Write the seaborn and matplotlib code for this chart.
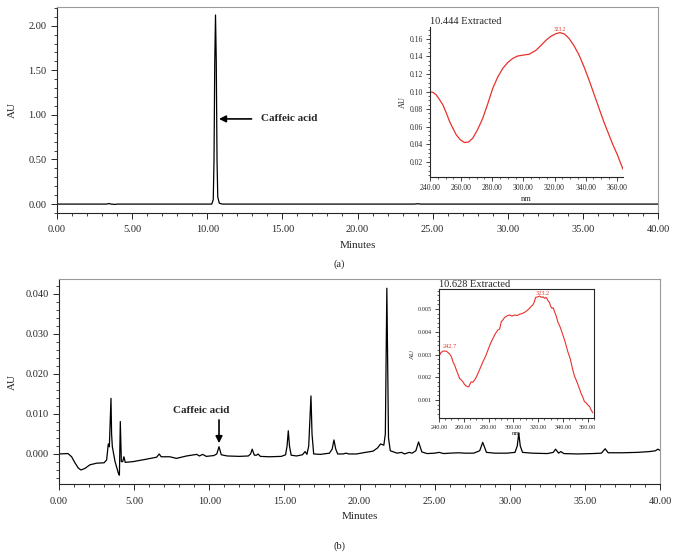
import numpy as np
import pandas as pd
import matplotlib
matplotlib.use("Agg")
import matplotlib.pyplot as plt
from matplotlib.ticker import MultipleLocator, FormatStrFormatter
import seaborn as sns

# ---------------- data ----------------
# (a) standard chromatogram
std_time = [0.0, 3.3, 3.45, 3.6, 3.9, 4.0, 4.1, 10.0, 10.3, 10.4, 10.45, 10.5, 10.55,
            10.6, 10.65, 10.7, 10.8, 11.0, 23.8, 24.0, 24.2, 40.0]
std_au = [0.0, 0.0, 0.006, 0.0, -0.004, 0.0, 0.0, 0.0, 0.0, 0.05, 0.5, 1.6, 2.12,
          1.6, 0.5, 0.08, 0.01, 0.0, 0.0, 0.004, 0.0, 0.0]

# (a) inset UV spectrum
std_nm = [240, 242, 244, 246, 248.3, 250.5, 252.6, 254.8, 256.9, 259.5, 262.2, 264.8,
          267.5, 270.7, 273.9, 277.1, 280.3, 283.5, 286.7, 289.9, 293.1, 296.3,
          299.6, 303.8, 308.1, 311.3, 314.5, 317.7, 320.9, 323.5, 326.5, 329.4,
          332.6, 335.8, 339.0, 342.2, 345.4, 348.6, 351.8, 355.0, 357.7, 360.4,
          362.2, 364.0]
std_spec = [0.0998, 0.0990, 0.0962, 0.0912, 0.0847, 0.0755, 0.0658, 0.0578, 0.0506,
            0.0450, 0.0419, 0.0425, 0.0469, 0.0570, 0.0696, 0.0860, 0.1036, 0.1165,
            0.1263, 0.1330, 0.1377, 0.1405, 0.1415, 0.1426, 0.1471, 0.1525, 0.1585,
            0.1630, 0.1660, 0.1672, 0.1655, 0.1604, 0.1520, 0.1415, 0.1280, 0.1131,
            0.0970, 0.0809, 0.0650, 0.0506, 0.0385, 0.0279, 0.0195, 0.0115]

# (b) sample chromatogram
smp_time = [0.0, 0.6, 0.84, 1.06, 1.28, 1.46, 1.73, 2.06, 2.51, 3.0, 3.17, 3.28, 3.35,
            3.46, 3.5, 3.55, 3.73, 3.95, 4.02, 4.08, 4.15, 4.24, 4.32, 4.41, 4.94,
            5.82, 6.5, 6.67, 6.8, 7.38, 7.82, 8.49, 9.16, 9.35, 9.56, 9.8, 10.3,
            10.5, 10.65, 10.8, 11.2, 12.0, 12.6, 12.75, 12.86, 13.0, 13.15, 13.25,
            13.4, 14.0, 14.8, 15.08, 15.18, 15.26, 15.34, 15.45, 15.8, 16.2, 16.38,
            16.5, 16.62, 16.7, 16.77, 16.84, 16.95, 17.4, 18.0, 18.18, 18.3, 18.42,
            18.55, 18.9, 19.1, 19.3, 19.8, 20.4, 20.9, 21.2, 21.4, 21.62, 21.72,
            21.76, 21.82, 21.88, 21.93, 22.05, 22.5, 22.8, 23.0, 23.3, 23.5, 23.75,
            23.93, 24.15, 24.5, 25.0, 25.3, 25.6, 26.0, 26.6, 27.0, 27.6, 28.0, 28.2,
            28.45, 29.0, 29.8, 30.35, 30.5, 30.6, 30.7, 30.85, 31.5, 32.5, 32.9,
            33.05, 33.25, 33.4, 33.6, 34.5, 35.5, 36.1, 36.35, 36.55, 37.5, 38.5,
            39.3, 39.7, 39.85, 40.0]
smp_au = [0.0, 0.0001, -0.0007, -0.0022, -0.0035, -0.0040, -0.0036, -0.0027, -0.0023,
          -0.0022, -0.0015, 0.0025, 0.0018, 0.0139, 0.005, 0.0018, -0.0019, -0.0048,
          -0.0053, 0.0081, -0.0019, -0.0019, -0.0007, -0.0021, -0.0019, -0.0013,
          -0.0008, 0.0, -0.0007, -0.0007, -0.0011, -0.0005, -0.0001, -0.0005,
          -0.0001, -0.0006, -0.0004, 0.0, 0.0018, -0.0002, -0.0005, -0.0006, -0.0005,
          0.0, 0.0012, -0.0003, -0.0003, 0.0, -0.0006, -0.0007, -0.0006, -0.0002,
          0.002, 0.0058, 0.002, -0.0003, -0.0005, -0.0002, 0.0006, -0.0001, 0.002,
          0.009, 0.0145, 0.005, 0.0, -0.0001, 0.0002, 0.0012, 0.0035, 0.0012, 0.0,
          0.0, 0.0002, 0.0, 0.0, 0.0004, 0.0007, 0.0015, 0.0025, 0.0022, 0.005, 0.02,
          0.0414, 0.02, 0.004, 0.0008, 0.0002, 0.0004, 0.0, 0.0004, 0.0002, 0.0008,
          0.003, 0.0005, 0.0001, 0.0002, 0.0004, 0.0001, 0.0002, 0.0003, 0.0002,
          0.0002, 0.0008, 0.0029, 0.0004, 0.0002, 0.0002, 0.0004, 0.002, 0.0052,
          0.002, 0.0004, 0.0002, 0.0001, 0.0004, 0.0012, 0.0002, 0.0006, 0.0001, 0.0,
          0.0001, 0.0002, 0.0013, 0.0003, 0.0003, 0.0004, 0.0006, 0.0008, 0.0012,
          0.0009]

# (b) inset UV spectrum (noisy trace)
smp_nm = [240, 241.5, 243.2, 245.9, 248.6, 250, 251.3, 252.7, 254, 255.3, 256.6, 258,
          259.3, 260.6, 262, 263.1, 264.2, 265.1, 266, 267.3, 268.7, 270, 271.4,
          273.4, 275.4, 277.4, 279.5, 281.5, 283.5, 285.5, 287.5, 288.9, 290.2,
          291.5, 292.9, 294.9, 296.9, 298.9, 300.9, 303, 305, 307, 309, 311, 313,
          314.4, 315.7, 316.8, 317.9, 319.5, 321.1, 322.5, 323.8, 325.1, 326.5,
          327.8, 329.1, 330.2, 331.3, 332.2, 333.2, 334.5, 335.8, 337.9, 339.9,
          341.9, 343.9, 345.9, 347.9, 349.3, 350.6, 352.6, 354.6, 356, 357.3, 358.7,
          360, 361.4, 362.7, 364]
smp_spec = [0.00293, 0.00308, 0.00315, 0.00315, 0.00302, 0.00290, 0.00268, 0.00252,
            0.00232, 0.00214, 0.00195, 0.00188, 0.0018, 0.00168, 0.00162, 0.00158,
            0.00159, 0.00172, 0.0018, 0.00178, 0.00188, 0.00200, 0.00217, 0.00242,
            0.00268, 0.00290, 0.0032, 0.00348, 0.00371, 0.00392, 0.00408, 0.00412,
            0.00444, 0.00452, 0.00463, 0.00470, 0.00474, 0.00469, 0.00474, 0.00471,
            0.00477, 0.00480, 0.00485, 0.00493, 0.00503, 0.00512, 0.00518, 0.00530,
            0.00551, 0.00553, 0.00557, 0.00551, 0.00554, 0.00547, 0.00551, 0.00538,
            0.00528, 0.00510, 0.00503, 0.00505, 0.00488, 0.00470, 0.00444, 0.00418,
            0.00386, 0.00352, 0.00312, 0.00280, 0.00232, 0.00205, 0.00188, 0.00160,
            0.00129, 0.00112, 0.00093, 0.00088, 0.00078, 0.00072, 0.00056, 0.00044]

# ---------------- style ----------------
sns.set_style("ticks")
plt.rcParams["font.family"] = ["Liberation Serif", "DejaVu Serif"]
plt.rcParams["axes.linewidth"] = 0.8

RED = "#e8312b"
W, H = 679, 556
fig = plt.figure(figsize=(W / 100, H / 100), dpi=100)


def rect(l, r, t, b):
    return [l / W, (H - b) / H, (r - l) / W, (b - t) / H]


def style_main(ax):
    ax.spines["top"].set_color("#9a9a9a")
    ax.spines["right"].set_color("#9a9a9a")
    ax.tick_params(which="major", length=4, width=0.7, labelsize=7.5, direction="out")
    ax.tick_params(which="minor", length=2, width=0.6, direction="out")
    ax.tick_params(axis="x", pad=5)
    ax.xaxis.set_major_locator(MultipleLocator(5))
    ax.xaxis.set_minor_locator(MultipleLocator(1))
    ax.xaxis.set_major_formatter(FormatStrFormatter("%.2f"))
    ax.set_xlim(0, 40)


def style_inset(ax, size):
    ax.tick_params(which="major", length=3, width=0.6, labelsize=size, direction="out", pad=2)
    ax.tick_params(which="minor", length=1.5, width=0.5, direction="out")
    ax.xaxis.set_major_locator(MultipleLocator(20))
    ax.xaxis.set_minor_locator(MultipleLocator(5))
    ax.xaxis.set_major_formatter(FormatStrFormatter("%.2f"))


# ---------------- panel (a) ----------------
ax1 = fig.add_axes(rect(57, 658, 7, 213))
df_a = pd.DataFrame({"Minutes": std_time, "AU": std_au})
sns.lineplot(data=df_a, x="Minutes", y="AU", ax=ax1, color="black", lw=0.9,
             estimator=None, sort=False)
style_main(ax1)
ax1.set_ylim(-0.1, 2.21)
ax1.yaxis.set_major_locator(MultipleLocator(0.5))
ax1.yaxis.set_minor_locator(MultipleLocator(0.1))
ax1.yaxis.set_major_formatter(FormatStrFormatter("%.2f"))
ax1.set_xlabel("Minutes", fontsize=8, labelpad=5)
ax1.set_ylabel("AU", fontsize=8, labelpad=8)
ax1.annotate("", xy=(10.78, 0.955), xytext=(12.95, 0.955),
             arrowprops=dict(arrowstyle="-|>", color="black", lw=1.2,
                             mutation_scale=10, shrinkA=0, shrinkB=0))
ax1.text(13.55, 0.955, "Caffeic acid", fontsize=8, fontweight="bold",
         va="center", ha="left")

ins1 = fig.add_axes(rect(430, 623, 27, 177))
df_ai = pd.DataFrame({"nm": std_nm, "AU": std_spec})
sns.lineplot(data=df_ai, x="nm", y="AU", ax=ins1, color=RED, lw=0.9,
             estimator=None, sort=False)
style_inset(ins1, 5.5)
ins1.set_xlim(240, 364)
ins1.set_ylim(0.0026, 0.1736)
ins1.yaxis.set_major_locator(MultipleLocator(0.02))
ins1.yaxis.set_minor_locator(MultipleLocator(0.005))
ins1.yaxis.set_major_formatter(FormatStrFormatter("%.2f"))
sns.despine(ax=ins1)
ins1.set_xlabel("nm", fontsize=6, labelpad=2)
ins1.set_ylabel("AU", fontsize=6, labelpad=2)
ins1.set_title("10.444 Extracted", fontsize=7.5, loc="left", pad=2)
ins1.text(323.5, 0.168, "323.2", color=RED, fontsize=4, ha="center", va="bottom")

fig.text(339.5 / W, 1 - 264 / H, "(a)", fontsize=7.5, ha="center", va="center")

# ---------------- panel (b) ----------------
ax2 = fig.add_axes(rect(59, 660, 279, 484))
df_b = pd.DataFrame({"Minutes": smp_time, "AU": smp_au})
sns.lineplot(data=df_b, x="Minutes", y="AU", ax=ax2, color="black", lw=0.9,
             estimator=None, sort=False)
style_main(ax2)
ax2.set_ylim(-0.0075, 0.0437)
ax2.yaxis.set_major_locator(MultipleLocator(0.01))
ax2.yaxis.set_minor_locator(MultipleLocator(0.002))
ax2.yaxis.set_major_formatter(FormatStrFormatter("%.3f"))
ax2.set_xlabel("Minutes", fontsize=8, labelpad=5)
ax2.set_ylabel("AU", fontsize=8, labelpad=6)
ax2.annotate("", xy=(10.65, 0.0027), xytext=(10.65, 0.0085),
             arrowprops=dict(arrowstyle="-|>", color="black", lw=1.2,
                             mutation_scale=10, shrinkA=0, shrinkB=0))
ax2.text(9.45, 0.0108, "Caffeic acid", fontsize=8, fontweight="bold",
         va="center", ha="center")

ins2 = fig.add_axes(rect(439, 594, 289, 418))
df_bi = pd.DataFrame({"nm": smp_nm, "AU": smp_spec})
sns.lineplot(data=df_bi, x="nm", y="AU", ax=ins2, color=RED, lw=0.8,
             estimator=None, sort=False)
style_inset(ins2, 4.5)
ins2.set_xlim(240, 365)
ins2.set_ylim(0.00021, 0.00588)
ins2.yaxis.set_major_locator(MultipleLocator(0.001))
ins2.yaxis.set_minor_locator(MultipleLocator(0.0002))
ins2.yaxis.set_major_formatter(FormatStrFormatter("%.3f"))
ins2.set_xlabel("nm", fontsize=5, labelpad=1)
ins2.set_ylabel("AU", fontsize=5, labelpad=2)
ins2.set_title("10.628 Extracted", fontsize=7.5, loc="left", pad=1)
ins2.text(248.6, 0.00325, "242.7", color=RED, fontsize=4.5, ha="center", va="bottom")
ins2.text(323.8, 0.00558, "323.2", color=RED, fontsize=4.5, ha="center", va="bottom")

fig.text(339.5 / W, 1 - 546 / H, "(b)", fontsize=7.5, ha="center", va="center")

fig.savefig("out.png", dpi=100)
